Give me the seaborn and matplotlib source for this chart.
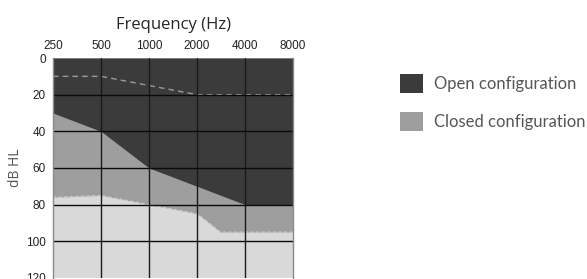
import numpy as np
import matplotlib
matplotlib.use("Agg")
import matplotlib.pyplot as plt
import seaborn as sns
from matplotlib.patches import Patch

# audiogram data (dB HL)
freqs = [250, 500, 1000, 2000, 4000, 8000]
open_limit = [30, 40, 60, 70, 80, 80]
closed_freqs = [250, 500, 1000, 2000, 2800, 4000, 8000]
closed_limit = [76, 75, 80, 85, 95, 95, 95]
threshold = [10, 10, 15, 20, 20, 20]
legend_labels = ["Open configuration", "Closed configuration"]

dark = "#3b3b3b"
mid = "#9d9e9d"
light = "#d9d9d9"

sns.set_style("white")
plt.rcParams["font.family"] = ["Liberation Sans", "DejaVu Sans"]

fig = plt.figure(figsize=(5.87, 2.79), dpi=100)
ax = fig.add_axes([0.0903, 0.004, 0.409, 0.788])

ax.set_xscale("log", base=2)
ax.set_xlim(250, 8000)
ax.set_ylim(120, 0)

# fills
ax.axhspan(0, 120, color=light, zorder=0)
ax.fill_between(closed_freqs, 0, closed_limit, color=mid, lw=0, zorder=1)
ax.fill_between(freqs, 0, open_limit, color=dark, lw=0, zorder=2)

# dashed boundaries
sns.lineplot(x=closed_freqs, y=closed_limit, ax=ax, color="#cfcfcf", lw=0.8,
             linestyle=(0, (3, 2)), zorder=3)
sns.lineplot(x=freqs, y=threshold, ax=ax, color="#9a9a9a", lw=1.0,
             linestyle=(0, (4, 3)), zorder=3)

# grid
for f in freqs[1:-1]:
    ax.axvline(f, color="#1a1a1a", lw=1.0, zorder=4)
for d in [20, 40, 60, 80, 100]:
    ax.axhline(d, color="#0a0a0a", lw=1.0, zorder=4)

for s in ["top", "bottom"]:
    ax.spines[s].set_visible(False)
for s in ["left", "right"]:
    ax.spines[s].set_color("#8a8a8a")
    ax.spines[s].set_linewidth(1.0)
    ax.spines[s].set_zorder(5)

ax.xaxis.tick_top()
ax.xaxis.set_label_position("top")
ax.set_xticks(freqs)
ax.set_xticklabels([str(f) for f in freqs])
ax.minorticks_off()
ax.set_yticks([0, 20, 40, 60, 80, 100, 120])
ax.tick_params(axis="both", length=0, labelsize=8.5, colors="#222222", pad=5)
ax.tick_params(axis="x", pad=4)
ax.set_xlabel("Frequency (Hz)", fontsize=12, family="Open Sans", labelpad=8)
ax.set_ylabel("dB HL", fontsize=10, color="#555555", family="Open Sans", labelpad=2)

handles = [Patch(facecolor=dark, edgecolor="none"), Patch(facecolor=mid, edgecolor="none")]
fig.legend(handles, legend_labels, loc="upper left", bbox_to_anchor=(0.681, 0.735),
           frameon=False, borderpad=0, borderaxespad=0,
           prop={"family": "Lato", "size": 12}, handlelength=1.38,
           handleheight=1.38, handletextpad=0.7, labelspacing=1.15, labelcolor="#555555")

fig.savefig("out.png", dpi=100)
